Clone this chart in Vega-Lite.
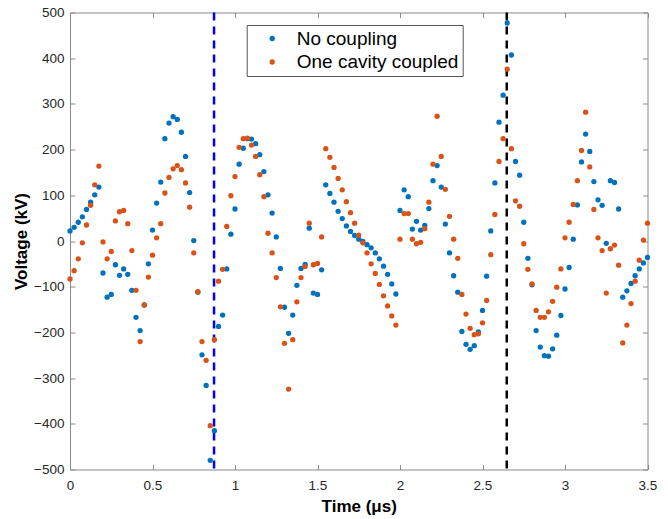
{
  "$schema": "https://vega.github.io/schema/vega-lite/v6.json",
  "width": 577.5,
  "height": 457,
  "autosize": {"type": "none"},
  "padding": {"left": 70, "top": 12.5, "right": 20.5, "bottom": 49.5},
  "background": "white",
  "config": {
    "view": {"stroke": null},
    "font": "Liberation Sans",
    "axis": {
      "grid": false,
      "domainColor": "#8a8a8a",
      "tickColor": "#8a8a8a",
      "domainWidth": 1,
      "tickWidth": 1,
      "tickSize": -5,
      "labelColor": "#262626",
      "labelFontSize": 13.5,
      "labelFont": "Liberation Sans",
      "titleFont": "Liberation Sans",
      "titleColor": "#000000",
      "titleFontSize": 17,
      "titleFontWeight": "bold"
    }
  },
  "datasets": {
    "pts": [
      {"t": 0, "none": 22, "one": -83},
      {"t": 0.025, "none": 30, "one": -65},
      {"t": 0.05, "none": 41, "one": -39},
      {"t": 0.075, "none": 53, "one": -4},
      {"t": 0.1, "none": 69, "one": 35},
      {"t": 0.125, "none": 85, "one": 78},
      {"t": 0.15, "none": 101, "one": 123},
      {"t": 0.175, "none": 118, "one": 164},
      {"t": 0.2, "none": -70, "one": -2},
      {"t": 0.225, "none": -123, "one": -39},
      {"t": 0.25, "none": -117, "one": -23},
      {"t": 0.275, "none": -52, "one": 44},
      {"t": 0.3, "none": -75, "one": 64},
      {"t": 0.325, "none": -61, "one": 67},
      {"t": 0.35, "none": -73, "one": 38},
      {"t": 0.375, "none": -108, "one": -21},
      {"t": 0.4, "none": -167, "one": -108},
      {"t": 0.425, "none": -196, "one": -220},
      {"t": 0.45, "none": -140, "one": -140},
      {"t": 0.475, "none": -50, "one": -79},
      {"t": 0.5, "none": 24, "one": -31},
      {"t": 0.525, "none": 83, "one": 7},
      {"t": 0.55, "none": 129, "one": 38},
      {"t": 0.575, "none": 224, "one": 105},
      {"t": 0.6, "none": 258, "one": 139},
      {"t": 0.625, "none": 272, "one": 158},
      {"t": 0.65, "none": 266, "one": 165},
      {"t": 0.675, "none": 238, "one": 156},
      {"t": 0.7, "none": 185, "one": 127},
      {"t": 0.725, "none": 106, "one": 74},
      {"t": 0.75, "none": 1, "one": -26},
      {"t": 0.775, "none": -112, "one": -111},
      {"t": 0.8, "none": -249, "one": -220},
      {"t": 0.825, "none": -316, "one": -261},
      {"t": 0.85, "none": -480, "one": -404},
      {"t": 0.875, "none": -415, "one": -216},
      {"t": 0.9, "none": -187, "one": -88},
      {"t": 0.925, "none": -162, "one": -62},
      {"t": 0.95, "none": -61, "one": 32},
      {"t": 0.975, "none": 15, "one": 99},
      {"t": 1, "none": 70, "one": 141},
      {"t": 1.025, "none": 168, "one": 205},
      {"t": 1.05, "none": 203, "one": 224},
      {"t": 1.075, "none": 224, "one": 225},
      {"t": 1.1, "none": 223, "one": 210},
      {"t": 1.125, "none": 213, "one": 185},
      {"t": 1.15, "none": 189, "one": 145},
      {"t": 1.175, "none": 152, "one": 97},
      {"t": 1.2, "none": 101, "one": 17},
      {"t": 1.225, "none": 61, "one": -26},
      {"t": 1.25, "none": 9, "one": -80},
      {"t": 1.275, "none": -60, "one": -144},
      {"t": 1.3, "none": -145, "one": -224},
      {"t": 1.325, "none": -202, "one": -324},
      {"t": 1.35, "none": -162, "one": -216},
      {"t": 1.375, "none": -97, "one": -133},
      {"t": 1.4, "none": -60, "one": -80},
      {"t": 1.425, "none": -51, "one": -56},
      {"t": 1.45, "none": 28, "one": 39},
      {"t": 1.475, "none": -114, "one": -52},
      {"t": 1.5, "none": -117, "one": -49},
      {"t": 1.525, "none": -63, "one": 9},
      {"t": 1.55, "none": 123, "one": 202},
      {"t": 1.575, "none": 104, "one": 183},
      {"t": 1.6, "none": 85, "one": 161},
      {"t": 1.625, "none": 65, "one": 137},
      {"t": 1.65, "none": 49, "one": 112},
      {"t": 1.675, "none": 33, "one": 86},
      {"t": 1.7, "none": 21, "one": 62},
      {"t": 1.725, "none": 12, "one": 39},
      {"t": 1.75, "none": 4, "one": 13},
      {"t": 1.775, "none": -1, "one": -4},
      {"t": 1.8, "none": -8, "one": -26},
      {"t": 1.825, "none": -15, "one": -50},
      {"t": 1.85, "none": -26, "one": -71},
      {"t": 1.875, "none": -39, "one": -95},
      {"t": 1.9, "none": -55, "one": -120},
      {"t": 1.925, "none": -73, "one": -142},
      {"t": 1.95, "none": -94, "one": -164},
      {"t": 1.975, "none": -116, "one": -184},
      {"t": 2, "none": 67, "one": 4},
      {"t": 2.025, "none": 112, "one": 60},
      {"t": 2.05, "none": 97, "one": 60},
      {"t": 2.075, "none": 26, "one": 4},
      {"t": 2.1, "none": 43, "one": -6},
      {"t": 2.125, "none": 24, "one": -3},
      {"t": 2.15, "none": 34, "one": 27},
      {"t": 2.175, "none": 71, "one": 85},
      {"t": 2.2, "none": 132, "one": 168},
      {"t": 2.225, "none": 165, "one": 273},
      {"t": 2.25, "none": 118, "one": 185},
      {"t": 2.275, "none": 37, "one": 113},
      {"t": 2.3, "none": -26, "one": 54},
      {"t": 2.325, "none": -76, "one": 4},
      {"t": 2.35, "none": -112, "one": -38},
      {"t": 2.375, "none": -198, "one": -117},
      {"t": 2.4, "none": -226, "one": -160},
      {"t": 2.425, "none": -237, "one": -191},
      {"t": 2.45, "none": -229, "one": -205},
      {"t": 2.475, "none": -199, "one": -203},
      {"t": 2.5, "none": -152, "one": -179},
      {"t": 2.525, "none": -77, "one": -130},
      {"t": 2.55, "none": 22, "one": -30},
      {"t": 2.575, "none": 127, "one": 58},
      {"t": 2.6, "none": 260, "one": 174},
      {"t": 2.625, "none": 319, "one": 224},
      {"t": 2.65, "none": 477, "one": 376},
      {"t": 2.675, "none": 407, "one": 202},
      {"t": 2.7, "none": 174, "one": 88},
      {"t": 2.725, "none": 144, "one": 76},
      {"t": 2.75, "none": 41, "one": -6},
      {"t": 2.775, "none": -38, "one": -62},
      {"t": 2.8, "none": -96, "one": -94},
      {"t": 2.825, "none": -196, "one": -152},
      {"t": 2.85, "none": -232, "one": -167},
      {"t": 2.875, "none": -251, "one": -167},
      {"t": 2.9, "none": -252, "one": -155},
      {"t": 2.925, "none": -236, "one": -132},
      {"t": 2.95, "none": -206, "one": -101},
      {"t": 2.975, "none": -163, "one": -61},
      {"t": 3, "none": -105, "one": 7},
      {"t": 3.025, "none": -58, "one": 41},
      {"t": 3.05, "none": 4, "one": 80},
      {"t": 3.075, "none": 79, "one": 132},
      {"t": 3.1, "none": 173, "one": 198},
      {"t": 3.125, "none": 234, "one": 282},
      {"t": 3.15, "none": 196, "one": 162},
      {"t": 3.175, "none": 130, "one": 69},
      {"t": 3.2, "none": 90, "one": 7},
      {"t": 3.225, "none": 78, "one": -21},
      {"t": 3.25, "none": -5, "one": -114},
      {"t": 3.275, "none": 132, "one": -17},
      {"t": 3.3, "none": 128, "one": -9},
      {"t": 3.325, "none": 70, "one": -53},
      {"t": 3.35, "none": -123, "one": -223},
      {"t": 3.375, "none": -109, "one": -184},
      {"t": 3.4, "none": -93, "one": -137},
      {"t": 3.425, "none": -76, "one": -88},
      {"t": 3.45, "none": -61, "one": -42},
      {"t": 3.475, "none": -48, "one": 2},
      {"t": 3.5, "none": -36, "one": 39}
    ]
  },
  "layer": [
    {
      "data": {"values": [{"t": 0.873}]},
      "mark": {"type": "rule", "color": "#0000ff", "strokeWidth": 2.5, "strokeDash": [8, 6]},
      "encoding": {
        "x": {"field": "t", "type": "quantitative", "scale": {"domain": [0, 3.5], "nice": false, "zero": false}, "axis": null}
      }
    },
    {
      "data": {"values": [{"t": 2.647}]},
      "mark": {"type": "rule", "color": "#000000", "strokeWidth": 2.5, "strokeDash": [8, 6]},
      "encoding": {
        "x": {"field": "t", "type": "quantitative", "scale": {"domain": [0, 3.5], "nice": false, "zero": false}, "axis": null}
      }
    },
    {
      "data": {"name": "pts"},
      "transform": [{"fold": ["none", "one"], "as": ["series", "v"]}],
      "mark": {"type": "point", "filled": true, "size": 28, "opacity": 1},
      "encoding": {
        "x": {
          "field": "t", "type": "quantitative",
          "scale": {"domain": [0, 3.5], "nice": false, "zero": false},
          "axis": {"orient": "bottom", "values": [0, 0.5, 1, 1.5, 2, 2.5, 3, 3.5], "format": ".1~f", "labelPadding": 14, "title": "Time (μs)", "titlePadding": 6, "labelFlush": false}
        },
        "y": {
          "field": "v", "type": "quantitative",
          "scale": {"domain": [-500, 500], "nice": false, "zero": false},
          "axis": {"orient": "left", "values": [-500, -400, -300, -200, -100, 0, 100, 200, 300, 400, 500], "labelPadding": 11, "title": "Voltage (kV)", "titlePadding": 3}
        },
        "color": {
          "field": "series", "type": "nominal",
          "scale": {"domain": ["none", "one"], "range": ["#0072BD", "#D95319"]},
          "legend": {
            "title": null, "orient": "none", "legendX": 176.7, "legendY": 12.5, "direction": "vertical",
            "fillColor": "white", "strokeColor": "#555555", "padding": 4,
            "symbolOffset": 12, "symbolSize": 28, "symbolType": "circle", "symbolStrokeWidth": 0,
            "labelFontSize": 19, "labelOffset": 15, "rowPadding": 3.5, "labelColor": "#000000", "labelLimit": 300,
            "labelExpr": "datum.value == 'none' ? 'No coupling' : 'One cavity coupled'"
          }
        },
        "order": {"field": "series"}
      }
    },
    {
      "data": {"name": "pts"},
      "mark": {"type": "point", "opacity": 0},
      "encoding": {
        "x": {
          "field": "t", "type": "quantitative",
          "scale": {"domain": [0, 3.5], "nice": false, "zero": false},
          "axis": {"orient": "top", "values": [0, 0.5, 1, 1.5, 2, 2.5, 3, 3.5], "labels": false, "title": null}
        },
        "y": {
          "field": "none", "type": "quantitative",
          "scale": {"domain": [-500, 500], "nice": false, "zero": false},
          "axis": {"orient": "right", "values": [-500, -400, -300, -200, -100, 0, 100, 200, 300, 400, 500], "labels": false, "title": null}
        }
      }
    }
  ],
  "resolve": {"axis": {"x": "independent", "y": "independent"}}
}
